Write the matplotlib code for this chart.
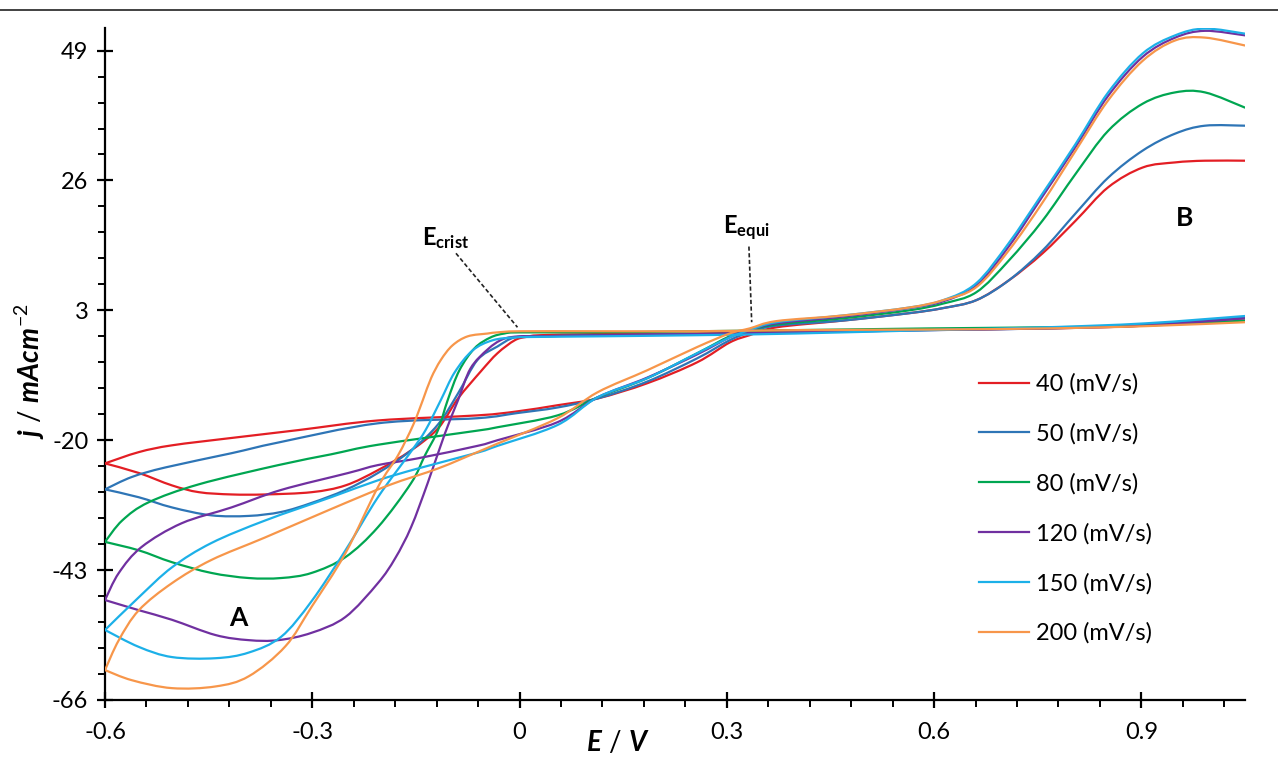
import numpy as np
import matplotlib
matplotlib.use("Agg")
import matplotlib.pyplot as plt
from matplotlib.lines import Line2D
from matplotlib.path import Path
from matplotlib.patches import PathPatch
from matplotlib.ticker import MultipleLocator

plt.rcParams['font.family'] = ['Lato', 'DejaVu Sans']
plt.rcParams['mathtext.fontset'] = 'custom'
plt.rcParams['mathtext.rm'] = 'Lato'
plt.rcParams['mathtext.bf'] = 'Lato:bold'
plt.rcParams['mathtext.it'] = 'Lato:italic:bold'

# CV loops: return sweep (1.05 V -> -0.6 V), then forward sweep (-0.6 V -> 1.05 V)
E_40 = [1.05, 0.906, 0.762, 0.593, 0.401, 0.257, 0.113, 0.03, 0.01, -0.007, -0.032, -0.056, -0.089, -0.118,
        -0.157, -0.205, -0.252, -0.301, -0.368, -0.417, -0.464, -0.503, -0.551, -0.6,
        -0.551, -0.503, -0.417, -0.320, -0.205, -0.061, -0.004, 0.055, 0.113, 0.185, 0.257, 0.304, 0.333,
        0.372, 0.469, 0.564, 0.613, 0.661, 0.708, 0.757, 0.805, 0.852, 0.902, 0.949, 0.992, 1.05]
j_40 = [1.6, 0.3, -0.2, -0.4, -0.7, -1.1, -1.2, -1.4, -1.7, -2.3, -4.6, -7.8, -12.6, -17.9,
        -21.8, -25.3, -28.0, -29.2, -29.6, -29.6, -29.2, -28.0, -25.8, -24.1,
        -22.1, -20.9, -19.6, -18.2, -16.5, -15.6, -14.9, -13.8, -12.6, -9.9, -6.2, -2.7, -1.4,
        0.0, 1.2, 2.5, 3.4, 4.8, 8.3, 13.1, 18.9, 24.8, 28.3, 29.2, 29.5, 29.5]

E_50 = [1.05, 0.906, 0.762, 0.593, 0.401, 0.257, 0.113, 0.03, -0.007, -0.032, -0.061, -0.089, -0.118,
        -0.157, -0.205, -0.252, -0.301, -0.345, -0.392, -0.446, -0.503, -0.551, -0.6,
        -0.561, -0.512, -0.417, -0.349, -0.205, -0.061, -0.004, 0.055, 0.113, 0.185, 0.257, 0.304, 0.333,
        0.372, 0.469, 0.564, 0.613, 0.661, 0.708, 0.757, 0.805, 0.852, 0.902, 0.949, 0.992, 1.05]
j_50 = [1.8, 0.5, -0.2, -0.5, -0.9, -1.2, -1.4, -1.6, -1.8, -3.4, -5.8, -11.7, -17.2,
        -21.8, -25.8, -28.8, -31.1, -32.7, -33.4, -33.3, -31.9, -30.1, -28.7,
        -26.5, -24.8, -22.3, -20.4, -17.0, -16.1, -15.2, -14.2, -12.6, -9.6, -5.5, -2.3, -0.9,
        0.3, 1.2, 2.5, 3.4, 4.8, 8.3, 13.6, 20.2, 26.5, 31.3, 34.3, 35.7, 35.7]

E_80 = [1.05, 0.906, 0.762, 0.593, 0.401, 0.257, 0.113, 0.0, -0.022, -0.042, -0.065, -0.087, -0.104, -0.118,
        -0.137, -0.157, -0.205, -0.252, -0.301, -0.345, -0.392, -0.446, -0.503, -0.551, -0.6,
        -0.575, -0.537, -0.464, -0.349, -0.273, -0.205, -0.061, -0.032, 0.055, 0.113, 0.185, 0.257, 0.304, 0.333,
        0.372, 0.469, 0.564, 0.613, 0.661, 0.708, 0.757, 0.805, 0.852, 0.902, 0.949, 0.992, 1.05]
j_80 = [1.2, 0.3, 0.0, -0.2, -0.5, -0.7, -0.9, -0.9, -1.1, -1.8, -3.7, -7.6, -12.9, -18.2,
        -22.7, -27.6, -35.4, -40.7, -43.5, -44.4, -44.4, -43.5, -41.6, -39.5, -38.0,
        -34.2, -31.0, -27.8, -24.4, -22.5, -20.8, -18.3, -17.7, -15.6, -12.4, -9.0, -4.6, -1.6, -0.5,
        0.5, 1.6, 3.0, 4.2, 6.2, 11.8, 18.9, 27.2, 34.8, 39.6, 41.6, 41.6, 38.9]

E_120 = [1.05, 0.906, 0.762, 0.593, 0.401, 0.257, 0.113, 0.03, 0.0, -0.024, -0.046, -0.071, -0.089, -0.108,
         -0.133, -0.157, -0.180, -0.205, -0.252, -0.301, -0.349, -0.392, -0.440, -0.503, -0.551, -0.6,
         -0.580, -0.547, -0.489, -0.417, -0.345, -0.248, -0.205, -0.147, -0.061, -0.032, 0.055, 0.113, 0.185,
         0.257, 0.304, 0.333, 0.372, 0.469, 0.564, 0.613, 0.661, 0.708, 0.757, 0.805, 0.852, 0.902, 0.949,
         0.992, 1.05]
j_120 = [1.6, 0.3, -0.2, -0.5, -0.9, -1.2, -1.4, -1.6, -1.6, -2.1, -3.9, -7.3, -12.9, -18.8,
         -27.6, -35.4, -40.9, -45.3, -51.3, -54.1, -55.4, -55.4, -54.5, -51.8, -50.1, -48.3,
         -43.5, -38.9, -34.7, -31.9, -28.8, -25.8, -24.4, -23.2, -21.0, -20.0, -16.8, -12.4, -8.9,
         -4.8, -1.8, -0.5, 0.7, 1.9, 3.4, 4.6, 7.4, 14.3, 23.2, 32.0, 41.0, 47.9, 51.3,
         52.5, 51.7]

E_150 = [1.05, 0.906, 0.762, 0.593, 0.401, 0.257, 0.113, 0.03, -0.007, -0.039, -0.068, -0.094, -0.114,
         -0.136, -0.157, -0.205, -0.252, -0.301, -0.345, -0.392, -0.440, -0.503, -0.551, -0.6,
         -0.551, -0.503, -0.446, -0.368, -0.273, -0.205, -0.147, -0.061, -0.032, 0.055, 0.113, 0.185, 0.257,
         0.304, 0.333, 0.372, 0.469, 0.564, 0.613, 0.661, 0.708, 0.757, 0.805, 0.852, 0.902, 0.949, 0.992,
         1.05]
j_150 = [2.0, 0.7, 0.0, -0.5, -1.1, -1.4, -1.6, -1.7, -1.8, -2.3, -4.1, -8.0, -12.9,
         -18.2, -22.0, -30.1, -39.5, -48.5, -54.8, -57.6, -58.6, -58.4, -56.6, -53.6,
         -47.8, -42.5, -38.2, -34.2, -30.1, -27.1, -25.0, -22.2, -21.0, -17.3, -12.4, -9.0, -4.6,
         -1.8, -0.5, 0.9, 2.1, 3.5, 4.8, 7.8, 14.9, 23.7, 32.5, 41.6, 48.5, 51.7, 52.9,
         52.0]

E_200 = [1.05, 0.906, 0.762, 0.593, 0.401, 0.257, 0.113, 0.0, -0.032, -0.046, -0.075, -0.097, -0.114,
         -0.128, -0.140, -0.154, -0.176, -0.205, -0.252, -0.301, -0.339, -0.392, -0.440, -0.503, -0.561, -0.6,
         -0.580, -0.551, -0.503, -0.446, -0.368, -0.273, -0.190, -0.118, -0.061, -0.032, 0.055, 0.113,
         0.185, 0.257, 0.304, 0.333, 0.372, 0.469, 0.564, 0.613, 0.661, 0.708, 0.757, 0.805, 0.852, 0.902,
         0.949, 0.992, 1.05]
j_200 = [0.9, 0.2, -0.2, -0.4, -0.5, -0.7, -0.7, -0.7, -0.9, -1.1, -1.6, -3.2, -5.8,
         -9.0, -12.9, -17.3, -22.7, -28.3, -40.0, -49.5, -56.5, -61.8, -63.6, -63.9, -62.5, -60.7,
         -55.4, -50.1, -45.3, -41.2, -37.2, -32.2, -28.0, -25.0, -22.1, -20.6, -16.1, -11.5,
         -7.6, -3.5, -1.1, -0.2, 1.1, 2.1, 3.5, 4.8, 7.1, 13.6, 22.1, 31.3, 40.2, 47.2,
         50.8, 51.3, 49.9]

labels = ['40 (mV/s)', '50 (mV/s)', '80 (mV/s)', '120 (mV/s)', '150 (mV/s)', '200 (mV/s)']
E_sets = [E_40, E_50, E_80, E_120, E_150, E_200]
j_sets = [j_40, j_50, j_80, j_120, j_150, j_200]
colors = ['#e31e24', '#2e75b6', '#00a651', '#7030a0', '#1cb0e8', '#f7964a']

y_major = [-66, -43, -20, 3, 26, 49]


def smoothed_path(xs, ys):
    # Excel-style smoothed line: cubic Bezier segments through every read point
    P = np.column_stack([xs, ys]).astype(float)
    n = len(P)
    verts, codes = [P[0]], [Path.MOVETO]
    for i in range(n - 1):
        p0 = P[i - 1] if i > 0 else P[i]
        p1, p2 = P[i], P[i + 1]
        p3 = P[i + 2] if i + 2 < n else P[i + 1]
        verts += [p1 + (p2 - p0) / 6, p2 - (p3 - p1) / 6, p2]
        codes += [Path.CURVE4] * 3
    return Path(verts, codes)


fig = plt.figure(figsize=(12.78, 7.57), dpi=100)
ax = fig.add_axes([105 / 1278, 57 / 757, 1140 / 1278, 672 / 757])

# draw order so the faster scans sit on top near B
for i in [0, 1, 2, 3, 5, 4]:
    E, j = E_sets[i], j_sets[i]
    k = int(np.argmin(E))  # turning point at -0.6 V stays a sharp corner
    for xs, ys in [(E[:k + 1], j[:k + 1]), (E[k:], j[k:])]:
        ax.add_patch(PathPatch(smoothed_path(xs, ys), fill=False, edgecolor=colors[i], lw=1.6,
                               zorder=3 + i, joinstyle='round', capstyle='round'))

ax.set_xlim(-0.6, 1.05)
ax.set_ylim(-66, 53)
ax.set_xticks([-0.6, -0.3, 0, 0.3, 0.6, 0.9])
ax.set_xticklabels(['-0.6', '-0.3', '0', '0.3', '0.6', '0.9'])
ax.xaxis.set_minor_locator(MultipleLocator(0.06))
ax.set_yticks(y_major)
ax.set_yticklabels([str(v) for v in y_major])
ax.set_yticks(np.arange(-66, 53, 4.6), minor=True)

for s in ['top', 'right']:
    ax.spines[s].set_visible(False)
for s in ['left', 'bottom']:
    ax.spines[s].set_linewidth(1.6)
ax.tick_params(which='major', direction='inout', length=12, width=1.6, labelsize=17, pad=6)
ax.tick_params(which='minor', direction='out', length=5, width=1.4)
ax.tick_params(axis='x', which='major', pad=10)

ax.set_xlabel(r'$E\ /\ V$', fontsize=20)
ax.xaxis.set_label_coords(0.45, -0.063)
ax.xaxis.label.set_va('center')
ax.set_ylabel(r'$j\ /\ mAcm^{-2}$', fontsize=20)
ax.yaxis.set_label_coords(-0.066, 0.49)
ax.yaxis.label.set_va('center')

# annotations
ax.text(-0.407, -51.5, 'A', fontsize=19, fontweight='bold', ha='center', va='center')
ax.text(0.962, 19.3, 'B', fontsize=19, fontweight='bold', ha='center', va='center')
ax.text(-0.107, 15.8, r'$\mathbf{E_{crist}}$', fontsize=17, ha='center', va='center')
ax.text(0.329, 17.5, r'$\mathbf{E_{equi}}$', fontsize=17, ha='center', va='center')
ax.plot([-0.092, -0.003], [13.1, 0.0], color='#222222', lw=1.2, ls=(0, (2.5, 1.5)), zorder=10)
ax.plot([0.332, 0.336], [14.3, 0.9], color='#222222', lw=1.2, ls=(0, (2.5, 1.5)), zorder=10)

handles = [Line2D([0], [0], color=c, lw=1.6) for c in colors]
fig.legend(handles, labels, loc='upper left', bbox_to_anchor=(958 / 1278, 1 - 352 / 757),
           frameon=False, fontsize=17, handlelength=2.1, handletextpad=0.3, labelspacing=1.2)

# thin rule across the top of the picture
fig.add_artist(Line2D([0, 1], [1 - 10 / 757, 1 - 10 / 757], transform=fig.transFigure,
                      color='#333333', lw=1.3))

fig.savefig('out.png', dpi=100)
